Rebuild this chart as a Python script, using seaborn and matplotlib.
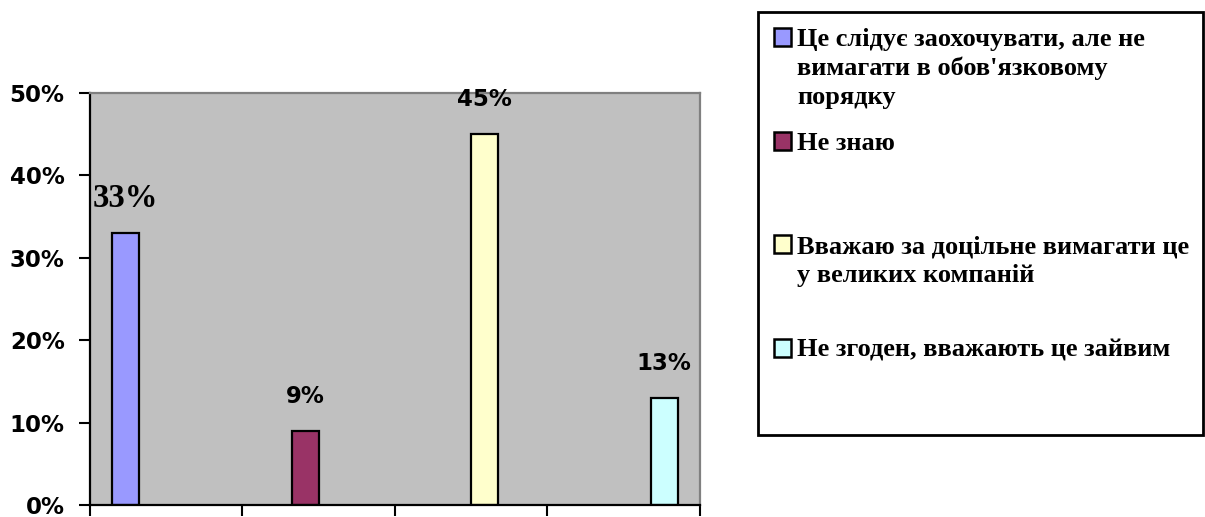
import matplotlib
matplotlib.use("Agg")
import matplotlib.pyplot as plt
import seaborn as sns
import pandas as pd
from matplotlib.ticker import PercentFormatter

# ---- data ----
categories = ["1", "2", "3", "4"]
answers = [
    "Це слідує заохочувати, але не вимагати в обов'язковому порядку",
    "Не знаю",
    "Вважаю за доцільне вимагати це у великих компаній",
    "Не згоден, вважають це зайвим",
]
legend_labels = [
    "Це слідує заохочувати, але не\nвимагати в обов'язковому\nпорядку",
    "Не знаю\n \n ",
    "Вважаю за доцільне вимагати це\nу великих компаній\n ",
    "Не згоден, вважають це зайвим\n \n ",
]
shares = [0.33, 0.09, 0.45, 0.13]
value_labels = ["33%", "9%", "45%", "13%"]
colors = ["#9999FF", "#993366", "#FFFFCC", "#CCFFFF"]
label_fonts = ["Liberation Serif", "DejaVu Sans", "DejaVu Sans", "DejaVu Sans"]
label_sizes = [23.5, 16.5, 16.5, 16.5]

df = pd.DataFrame({"category": categories, "answer": answers, "share": shares})

sns.set_theme(style="white")
plt.rcParams["font.family"] = ["DejaVu Sans"]

fig = plt.figure(figsize=(12.05, 5.17), dpi=100)
ax = fig.add_axes([0.0744, 0.0232, 0.5066, 0.7975])
ax.set_facecolor("#C0C0C0")

sns.barplot(
    data=df, x="category", y="share", hue="answer",
    order=categories, hue_order=answers, palette=colors,
    width=0.706, dodge=True, errorbar=None, saturation=1,
    edgecolor="black", linewidth=1.6, ax=ax,
)

handles, _ = ax.get_legend_handles_labels()
if ax.get_legend() is not None:
    ax.get_legend().remove()

# value labels
for cont, lab, fam, fs in zip(ax.containers, value_labels, label_fonts, label_sizes):
    bar = cont.patches[0]
    ax.annotate(
        lab, xy=(bar.get_x() + bar.get_width() / 2, bar.get_height()),
        xytext=(0, 24.5), textcoords="offset points",
        ha="center", va="center", fontsize=fs, fontweight="bold",
        family=fam, color="black",
    )

ax.set_ylim(0, 0.5)
ax.set_xlim(-0.5, 3.5)
ax.set_yticks([0, 0.1, 0.2, 0.3, 0.4, 0.5])
ax.yaxis.set_major_formatter(PercentFormatter(1.0, decimals=0))
ax.set_xticks([-0.5, 0.5, 1.5, 2.5, 3.5])
ax.set_xticklabels([])
ax.set_xlabel("")
ax.set_ylabel("")
ax.tick_params(axis="y", which="major", direction="out", length=8, width=1.5,
               color="black", left=True, labelsize=16.5, pad=10)
ax.tick_params(axis="x", which="major", direction="out", length=8, width=1.5,
               color="black", bottom=True)
for t in ax.get_yticklabels():
    t.set_fontweight("bold")
    t.set_color("black")

for side in ["left", "bottom"]:
    ax.spines[side].set_color("black")
    ax.spines[side].set_linewidth(1.6)
for side in ["top", "right"]:
    ax.spines[side].set_color("#808080")
    ax.spines[side].set_linewidth(1.6)
for s in ax.spines.values():
    s.set_visible(True)

leg = fig.legend(
    handles, legend_labels, loc="upper left", mode="expand",
    bbox_to_anchor=(0.629, 0.5, 0.3693, 0.477), bbox_transform=fig.transFigure,
    prop={"family": "Liberation Serif", "weight": "bold", "size": 19.0},
    frameon=True, fancybox=False, edgecolor="black", facecolor="white",
    framealpha=1, handlelength=0.66, handleheight=0.66, handletextpad=0.22,
    labelspacing=0.87, borderpad=0.6, borderaxespad=0,
)
leg.get_frame().set_linewidth(2)
for t in leg.get_texts():
    t.set_linespacing(1.32)
    t.set_color("black")
for h in leg.legend_handles:
    h.set_edgecolor("black")
    h.set_linewidth(1.8)
for col in leg._legend_handle_box.get_children():
    for row in col.get_children():
        row.align = "top"

fig.savefig("out.png", dpi=100)
